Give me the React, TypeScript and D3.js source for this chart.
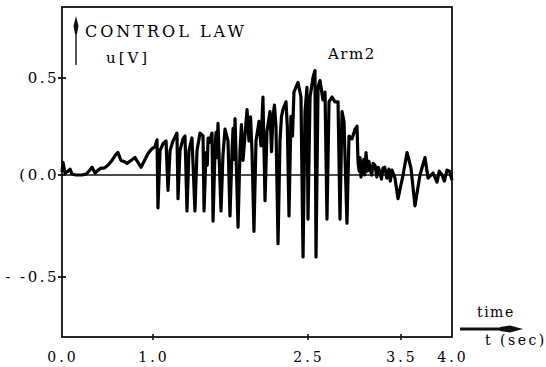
import React, { useRef, useEffect } from "react";
import * as d3 from "d3";

// control signal u(t) of Arm2
const timeSec = [
  0.0, 0.011, 0.033, 0.066, 0.088, 0.11, 0.154, 0.22, 0.264, 0.297, 0.33, 0.363, 0.396, 0.429, 0.462,
  0.505, 0.549, 0.593, 0.615, 0.648, 0.681, 0.714, 0.758, 0.802, 0.835, 0.868, 0.901, 0.945, 0.989,
  1.019, 1.039, 1.048, 1.068, 1.097, 1.126, 1.145, 1.165, 1.194, 1.232, 1.242, 1.261, 1.29, 1.31,
  1.329, 1.348, 1.377, 1.406, 1.426, 1.455, 1.484, 1.494, 1.513, 1.542, 1.571, 1.581, 1.6, 1.629,
  1.658, 1.677, 1.697, 1.726, 1.745, 1.765, 1.794, 1.823, 1.842, 1.871, 1.91, 1.929, 1.958, 1.977,
  1.997, 2.026, 2.064, 2.084, 2.103, 2.132, 2.161, 2.19, 2.21, 2.229, 2.258, 2.287, 2.316, 2.335,
  2.364, 2.403, 2.432, 2.452, 2.471, 2.49, 2.5, 2.522, 2.554, 2.575, 2.586, 2.608, 2.629, 2.661,
  2.683, 2.704, 2.726, 2.758, 2.79, 2.823, 2.844, 2.866, 2.887, 2.919, 2.941, 2.973, 3.005, 3.027,
  3.038, 3.081, 3.124, 3.167, 3.22, 3.274, 3.306, 3.349, 3.403, 3.435, 3.468, 3.52, 3.559, 3.598,
  3.637, 3.686, 3.735, 3.765, 3.814, 3.853, 3.902, 3.951, 4.0,
];

const controlU = [
  0.015, 0.065, 0.01, 0.02, 0.03, 0.005, 0, 0, 0.005, 0.02, 0.04, 0.01, 0.025, 0.035, 0.035,
  0.05, 0.075, 0.106, 0.116, 0.075, 0.07, 0.06, 0.075, 0.09, 0.065, 0.04, 0.07, 0.111, 0.136,
  0.146, 0.181, -0.161, 0.126, 0.161, 0.176, -0.075, 0.126, 0.176, 0.216, -0.116, 0.126, 0.186, 0.201,
  -0.176, 0.126, 0.191, -0.176, 0.126, 0.216, 0.201, -0.176, 0.116, 0.166, 0.216, -0.226, 0.126, 0.266,
  -0.176, 0.101, 0.236, 0.176, -0.201, 0.126, 0.291, -0.256, 0.126, 0.075, 0.337, 0.176, 0.126, -0.276,
  0.176, 0.276, 0.402, -0.126, 0.226, 0.327, 0.302, 0.251, -0.337, 0.176, 0.337, 0.377, -0.201, 0.302,
  0.427, 0.477, 0.402, -0.402, 0.327, 0.452, -0.216, 0.402, 0.503, 0.538, -0.402, 0.452, 0.487, 0.387,
  0.427, -0.216, 0.377, 0.402, 0.377, 0.377, -0.216, 0.327, 0.276, -0.236, 0.201, 0.186, 0.236, 0.251,
  0.065, 0.035, 0.116, 0.035, 0.05, 0.015, 0.035, -0.015, 0.025, -0.015, -0.116, 0, 0.116, 0.035,
  -0.151, 0, 0.09, -0.015, 0.01, -0.035, 0, 0.025, -0.025,
];

// fast chatter inside the dense parts of the trace
const chatterTime = [
  1.525, 1.533, 1.61, 1.62, 1.775, 1.785, 1.856, 1.89, 1.944, 2.045, 2.147, 2.175, 2.243, 2.3, 2.35,
  3.05, 3.06, 3.07, 3.1, 3.11, 3.14, 3.155, 3.185, 3.2, 3.24, 3.255, 3.29, 3.325, 3.37, 3.385,
  3.875, 3.925, 3.975,
];
const chatterU = [
  0.05, 0.19, 0.22, 0.09, 0.24, 0.08, 0.26, 0.2, 0.3, 0.15, 0.12, 0.36, 0.3, 0.25, 0.2,
  0.02, 0.09, -0.01, 0.08, 0.0, 0.02, 0.07, 0.0, 0.06, -0.01, 0.04, -0.02, 0.04, 0.03, -0.03,
  0.02, -0.03, 0.02,
];

const xTicks = [0, 1, 2.5, 3.5, 4];
const xTickLabels = ["0.0", "1.0", "2.5", "3.5", "4.0"];
const yTicks = [0.5, 0, -0.5];
const yTickLabels = ["0.5", "(0.0", "- -0.5"];

const width = 546;
const height = 367;
const plotLeft = 62;
const plotRight = 452;
const plotTop = 7;
const plotBottom = 337;
const font = "DejaVu Serif";

export default function App() {
  const svgRef = useRef<SVGSVGElement>(null);

  useEffect(() => {
    const svg = d3.select(svgRef.current);
    svg.selectAll("*").remove();

    // the printed axis is not quite uniform, so map through the tick positions
    const x = d3.scaleLinear().domain(xTicks).range([62, 153, 308, 401, 452]);
    const y = d3.scaleLinear().domain([-0.5, 0, 0.5]).range([277, 175, 78]);

    const data = timeSec
      .map((t, i) => [t, controlU[i]] as [number, number])
      .concat(chatterTime.map((t, i) => [t, chatterU[i]] as [number, number]))
      .sort((a, b) => a[0] - b[0]);

    // frame
    svg.append("rect")
      .attr("x", plotLeft)
      .attr("y", plotTop)
      .attr("width", plotRight - plotLeft)
      .attr("height", plotBottom - plotTop)
      .attr("fill", "none")
      .attr("stroke", "#111")
      .attr("stroke-width", 1.8);

    // zero line
    svg.append("line")
      .attr("x1", plotLeft).attr("x2", plotRight)
      .attr("y1", y(0)).attr("y2", y(0))
      .attr("stroke", "#111")
      .attr("stroke-width", 1.6);

    // signal
    const line = d3.line<[number, number]>()
      .x(d => x(d[0]))
      .y(d => y(d[1]));

    svg.append("path")
      .datum(data)
      .attr("d", line)
      .attr("fill", "none")
      .attr("stroke", "#000")
      .attr("stroke-width", 3.2)
      .attr("stroke-linejoin", "round");

    // y ticks
    const yg = svg.append("g");
    yg.selectAll("line")
      .data(yTicks)
      .join("line")
      .attr("x1", plotLeft - 4).attr("x2", plotLeft + 4)
      .attr("y1", d => y(d)).attr("y2", d => y(d))
      .attr("stroke", "#111")
      .attr("stroke-width", 1.8);
    yg.selectAll("text")
      .data(yTicks)
      .join("text")
      .attr("x", plotLeft - 3)
      .attr("y", d => y(d) + 5)
      .attr("text-anchor", "end")
      .attr("font-family", font)
      .attr("font-size", 15)
      .attr("letter-spacing", 2.5)
      .text((d, i) => yTickLabels[i]);

    // x ticks
    const xg = svg.append("g");
    xg.selectAll("line")
      .data(xTicks.slice(1, 4))
      .join("line")
      .attr("x1", d => x(d)).attr("x2", d => x(d))
      .attr("y1", plotBottom - 3).attr("y2", plotBottom + 3)
      .attr("stroke", "#111")
      .attr("stroke-width", 1.6);
    xg.selectAll("text")
      .data(xTicks)
      .join("text")
      .attr("x", d => x(d) + 1)
      .attr("y", 362)
      .attr("text-anchor", "middle")
      .attr("font-family", font)
      .attr("font-size", 14)
      .attr("letter-spacing", 3)
      .text((d, i) => xTickLabels[i]);

    // vertical arrow of the y label
    svg.append("line")
      .attr("x1", 76).attr("x2", 76)
      .attr("y1", 28).attr("y2", 65)
      .attr("stroke", "#111")
      .attr("stroke-width", 1.4);
    svg.append("path")
      .attr("d", "M76,16 L78.5,26 L77,34 L75,34 L73.5,26 Z")
      .attr("fill", "#111");

    svg.append("text")
      .attr("x", 85).attr("y", 37)
      .attr("font-family", font)
      .attr("font-size", 16)
      .attr("letter-spacing", 3)
      .text("CONTROL LAW");

    svg.append("text")
      .attr("x", 106).attr("y", 63)
      .attr("font-family", font)
      .attr("font-size", 15)
      .attr("letter-spacing", 3)
      .text("u[V]");

    svg.append("text")
      .attr("x", 328).attr("y", 59)
      .attr("font-family", font)
      .attr("font-size", 15)
      .attr("letter-spacing", 1.5)
      .text("Arm2");

    // time arrow
    svg.append("text")
      .attr("x", 477).attr("y", 317)
      .attr("font-family", font)
      .attr("font-size", 14)
      .attr("letter-spacing", 1.5)
      .text("time");
    svg.append("line")
      .attr("x1", 460).attr("x2", 512)
      .attr("y1", 329).attr("y2", 329)
      .attr("stroke", "#111")
      .attr("stroke-width", 3);
    svg.append("path")
      .attr("d", "M523,329 L510,325.5 L500,327 L500,331 L510,332.5 Z")
      .attr("fill", "#111");
    svg.append("text")
      .attr("x", 485).attr("y", 345)
      .attr("font-family", font)
      .attr("font-size", 14)
      .attr("letter-spacing", 2.5)
      .text("t (sec)");
  }, []);

  return (
    <svg
      ref={svgRef}
      width={width}
      height={height}
      style={{ position: "absolute", left: 0, top: 0, background: "#fff" }}
    />
  );
}
